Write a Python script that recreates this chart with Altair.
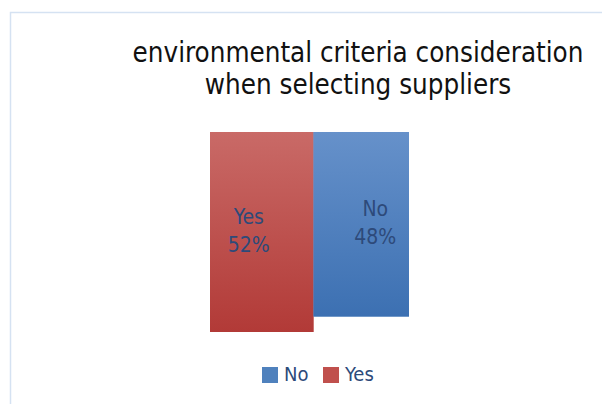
import altair as alt
import pandas as pd

# ---- data ----
categories = ["Yes", "No"]
percent = [52, 48]
legend_order = ["No", "Yes"]
title_lines = ["environmental criteria consideration", "when selecting suppliers"]

FONT = "DejaVu Sans Condensed"
TEXT_BLUE = "#2D4A7A"
BLUE = "#4F81BD"
RED = "#C0504D"

df = pd.DataFrame({"answer": categories, "pct": percent})

xscale = alt.Scale(domain=[0, 100], range=[210, 409])
yscale = alt.Scale(domain=[0, 52], range=[132, 332])

base = (
    alt.Chart(df)
    .transform_window(cum="sum(pct)", sort=[alt.SortField("answer", order="descending")])
    .transform_calculate(
        start="datum.cum - datum.pct",
        zero="0",
        mid="(datum.cum - datum.pct / 2)",
        half="datum.pct / 2",
        label="[datum.answer, datum.pct + '%']",
    )
)

enc = dict(
    x=alt.X("start:Q", scale=xscale, axis=None),
    x2="cum:Q",
    y=alt.Y("zero:Q", scale=yscale, axis=None),
    y2="pct:Q",
)

legend_bars = base.mark_rect().encode(
    color=alt.Color(
        "answer:N",
        scale=alt.Scale(domain=legend_order, range=[BLUE, RED]),
        legend=alt.Legend(
            orient="none",
            legendX=260,
            legendY=365,
            direction="horizontal",
            title=None,
            symbolType="square",
            symbolSize=256,
            symbolStrokeWidth=0,
            labelFont=FONT,
            labelFontSize=20,
            labelColor=TEXT_BLUE,
            labelOffset=4,
            columnPadding=12,
            padding=0,
        ),
    ),
    **enc,
)


def grad(top, bottom):
    return alt.Gradient(
        gradient="linear",
        stops=[alt.GradientStop(color=top, offset=0), alt.GradientStop(color=bottom, offset=1)],
        x1=0, x2=0, y1=0, y2=1,
    )


yes_bar = base.transform_filter("datum.answer == 'Yes'").mark_rect(
    fill=grad("#C96A67", "#B23A37")
).encode(**enc)
no_bar = base.transform_filter("datum.answer == 'No'").mark_rect(
    fill=grad("#6691CA", "#3C70B2")
).encode(**enc)


def label_layer(cat, dx):
    return base.transform_filter(f"datum.answer == '{cat}'").mark_text(
        font=FONT, fontSize=21, color=TEXT_BLUE, lineHeight=28,
        align="center", baseline="middle", dx=dx, dy=-14,
    ).encode(
        x=alt.X("mid:Q", scale=xscale, axis=None),
        y=alt.Y("half:Q", scale=yscale, axis=None),
        text="label:N",
    )


yes_label = label_layer("Yes", -13)
no_label = label_layer("No", 14)

title = alt.Chart(pd.DataFrame({"t": [title_lines]})).mark_text(
    font=FONT, fontSize=27.5, color="#111111", lineHeight=32,
    align="center", baseline="alphabetic",
).encode(x=alt.value(358), y=alt.value(62), text="t:N")

border = alt.Chart(pd.DataFrame({"a": [0]})).mark_rect(
    fill="transparent", stroke="#D5E2F2", strokeWidth=1.5
).encode(x=alt.value(10.5), x2=alt.value(640), y=alt.value(12.5), y2=alt.value(440))

chart = (
    alt.layer(border, legend_bars, yes_bar, no_bar, yes_label, no_label, title)
    .properties(width=602, height=404, autosize="none", padding=0)
    .configure_view(stroke=None)
)

chart.save("out.html", embed_options={"renderer": "svg", "actions": False})
